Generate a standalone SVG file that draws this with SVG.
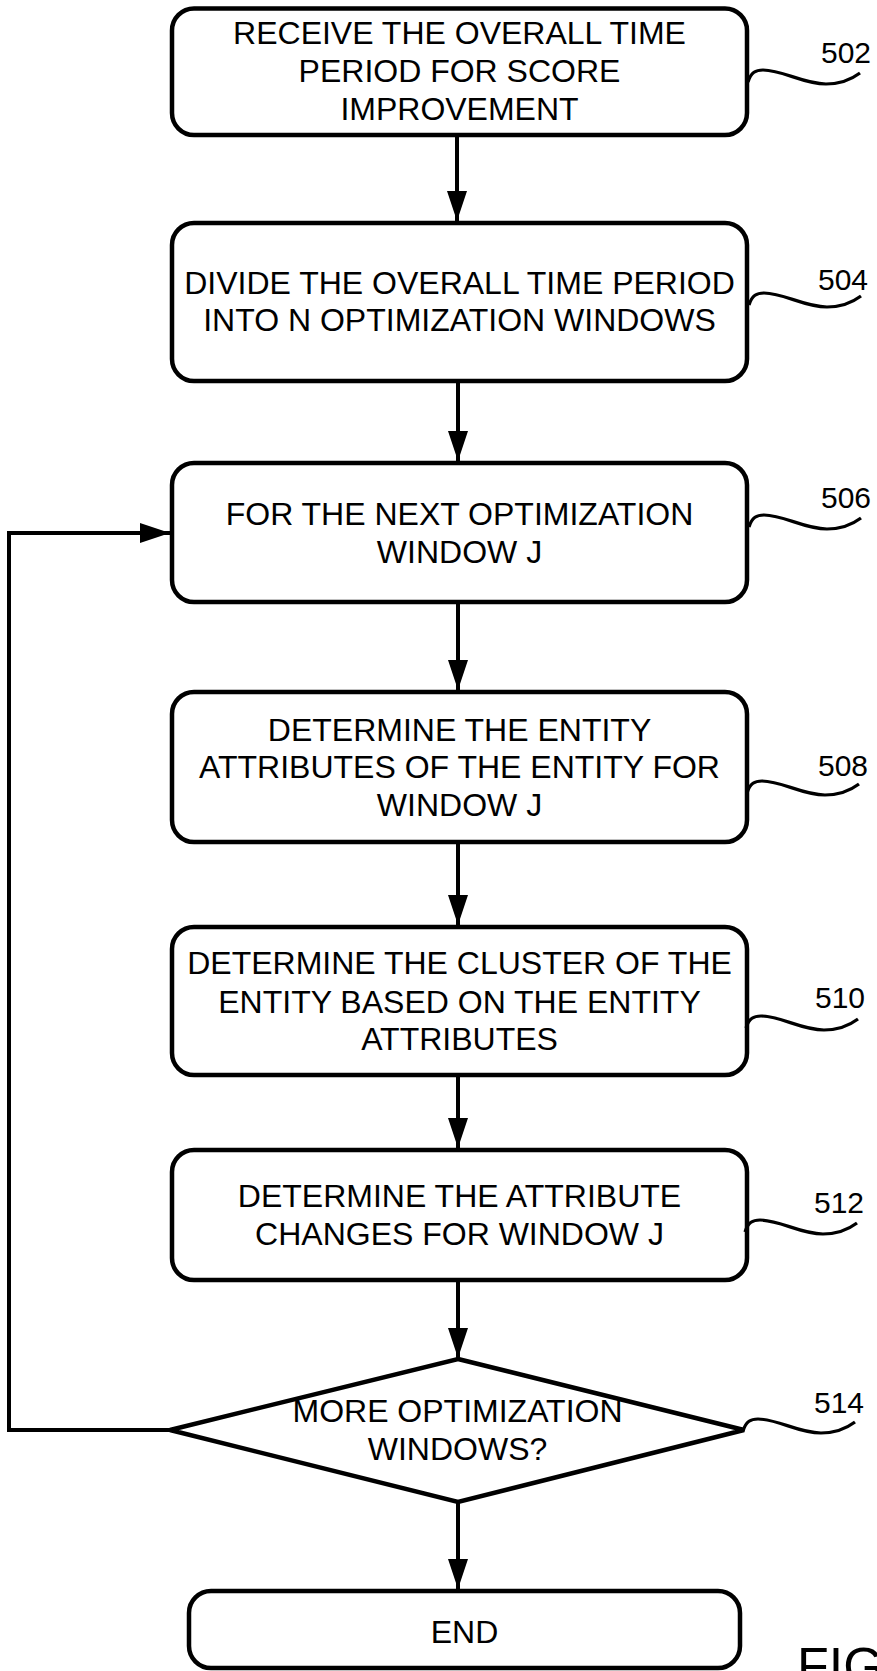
<svg xmlns="http://www.w3.org/2000/svg" width="877" height="1671" viewBox="0 0 877 1671">
<style>
.box{fill:#fff;stroke:#000;stroke-width:4.5}
.t{font-family:"Liberation Sans",Arial,sans-serif;font-size:32px;text-anchor:middle;fill:#000}
.lbl{font-family:"Liberation Sans",Arial,sans-serif;font-size:30px;fill:#000}
.sq{fill:none;stroke:#000;stroke-width:3.2}
.c{fill:none;stroke:#000;stroke-width:4}
</style>
<defs>
<marker id="ah" markerUnits="userSpaceOnUse" markerWidth="30" markerHeight="20" refX="30" refY="10" orient="auto">
<path d="M0,0 L30,10 L0,20 z" fill="#000"/>
</marker>
</defs>
<rect width="877" height="1671" fill="#fff"/>
<g id="connectors">
<line class="c" x1="457" y1="135" x2="457" y2="221" marker-end="url(#ah)"/>
<line class="c" x1="458" y1="381" x2="458" y2="461" marker-end="url(#ah)"/>
<line class="c" x1="458" y1="602" x2="458" y2="690" marker-end="url(#ah)"/>
<line class="c" x1="458" y1="842" x2="458" y2="925" marker-end="url(#ah)"/>
<line class="c" x1="458" y1="1075" x2="458" y2="1148" marker-end="url(#ah)"/>
<line class="c" x1="458" y1="1280" x2="458" y2="1358" marker-end="url(#ah)"/>
<line class="c" x1="458" y1="1502" x2="458" y2="1589" marker-end="url(#ah)"/>
<path class="c" d="M170,1430 H9 V533 H170" marker-end="url(#ah)"/>
</g>
<g id="n502">
<rect class="box" x="172" y="8.5" width="575" height="126.5" rx="22"/>
<text class="t" x="459.5" y="44">RECEIVE THE OVERALL TIME</text>
<text class="t" x="459.5" y="82">PERIOD FOR SCORE</text>
<text class="t" x="459.5" y="120">IMPROVEMENT</text>
<path class="sq" d="M748,82 c3,-10 8,-12 15,-12 c20,0 40,14 63,14 c14,0 26,-5 34,-11"/>
<text class="lbl" x="821" y="62.5">502</text>
</g>
<g id="n504">
<rect class="box" x="172" y="223" width="575" height="158" rx="22"/>
<text class="t" x="459.5" y="294">DIVIDE THE OVERALL TIME PERIOD</text>
<text class="t" x="459.5" y="330.5">INTO N OPTIMIZATION WINDOWS</text>
<path class="sq" d="M749,305 c3,-10 8,-12 15,-12 c20,0 40,14 63,14 c14,0 26,-5 34,-11"/>
<text class="lbl" x="818" y="290">504</text>
</g>
<g id="n506">
<rect class="box" x="172" y="463" width="575" height="139" rx="22"/>
<text class="t" x="459.5" y="524.5">FOR THE NEXT OPTIMIZATION</text>
<text class="t" x="459.5" y="563">WINDOW J</text>
<path class="sq" d="M749,527 c3,-10 8,-12 15,-12 c20,0 40,14 63,14 c14,0 26,-5 34,-11"/>
<text class="lbl" x="821" y="507.5">506</text>
</g>
<g id="n508">
<rect class="box" x="172" y="692" width="575" height="150" rx="22"/>
<text class="t" x="459.5" y="741">DETERMINE THE ENTITY</text>
<text class="t" x="459.5" y="778">ATTRIBUTES OF THE ENTITY FOR</text>
<text class="t" x="459.5" y="815.5">WINDOW J</text>
<path class="sq" d="M747,793 c3,-10 8,-12 15,-12 c20,0 40,14 63,14 c14,0 26,-5 34,-11"/>
<text class="lbl" x="818" y="776">508</text>
</g>
<g id="n510">
<rect class="box" x="172" y="927" width="575" height="148" rx="22"/>
<text class="t" x="459.5" y="974">DETERMINE THE CLUSTER OF THE</text>
<text class="t" x="459.5" y="1013">ENTITY BASED ON THE ENTITY</text>
<text class="t" x="459.5" y="1050">ATTRIBUTES</text>
<path class="sq" d="M746,1028 c3,-10 8,-12 15,-12 c20,0 40,14 63,14 c14,0 26,-5 34,-11"/>
<text class="lbl" x="815" y="1007.5">510</text>
</g>
<g id="n512">
<rect class="box" x="172" y="1150" width="575" height="130" rx="22"/>
<text class="t" x="459.5" y="1206.5">DETERMINE THE ATTRIBUTE</text>
<text class="t" x="459.5" y="1245">CHANGES FOR WINDOW J</text>
<path class="sq" d="M745,1232 c3,-10 8,-12 15,-12 c20,0 40,14 63,14 c14,0 26,-5 34,-11"/>
<text class="lbl" x="814" y="1213">512</text>
</g>
<g id="n514">
<polygon class="box" points="458,1359 744,1430 458,1502 170,1430"/>
<text class="t" x="457.5" y="1422">MORE OPTIMIZATION</text>
<text class="t" x="457.5" y="1460">WINDOWS?</text>
<path class="sq" d="M743,1431 c3,-10 8,-12 15,-12 c20,0 40,14 63,14 c14,0 26,-5 34,-11"/>
<text class="lbl" x="814" y="1412.5">514</text>
</g>
<g id="end">
<rect class="box" x="189" y="1591" width="551" height="77" rx="22"/>
<text class="t" x="464.5" y="1643">END</text>
</g>
<text x="797" y="1684" font-family="Liberation Sans, Arial, sans-serif" font-size="52" fill="#000">FIG</text>
</svg>
